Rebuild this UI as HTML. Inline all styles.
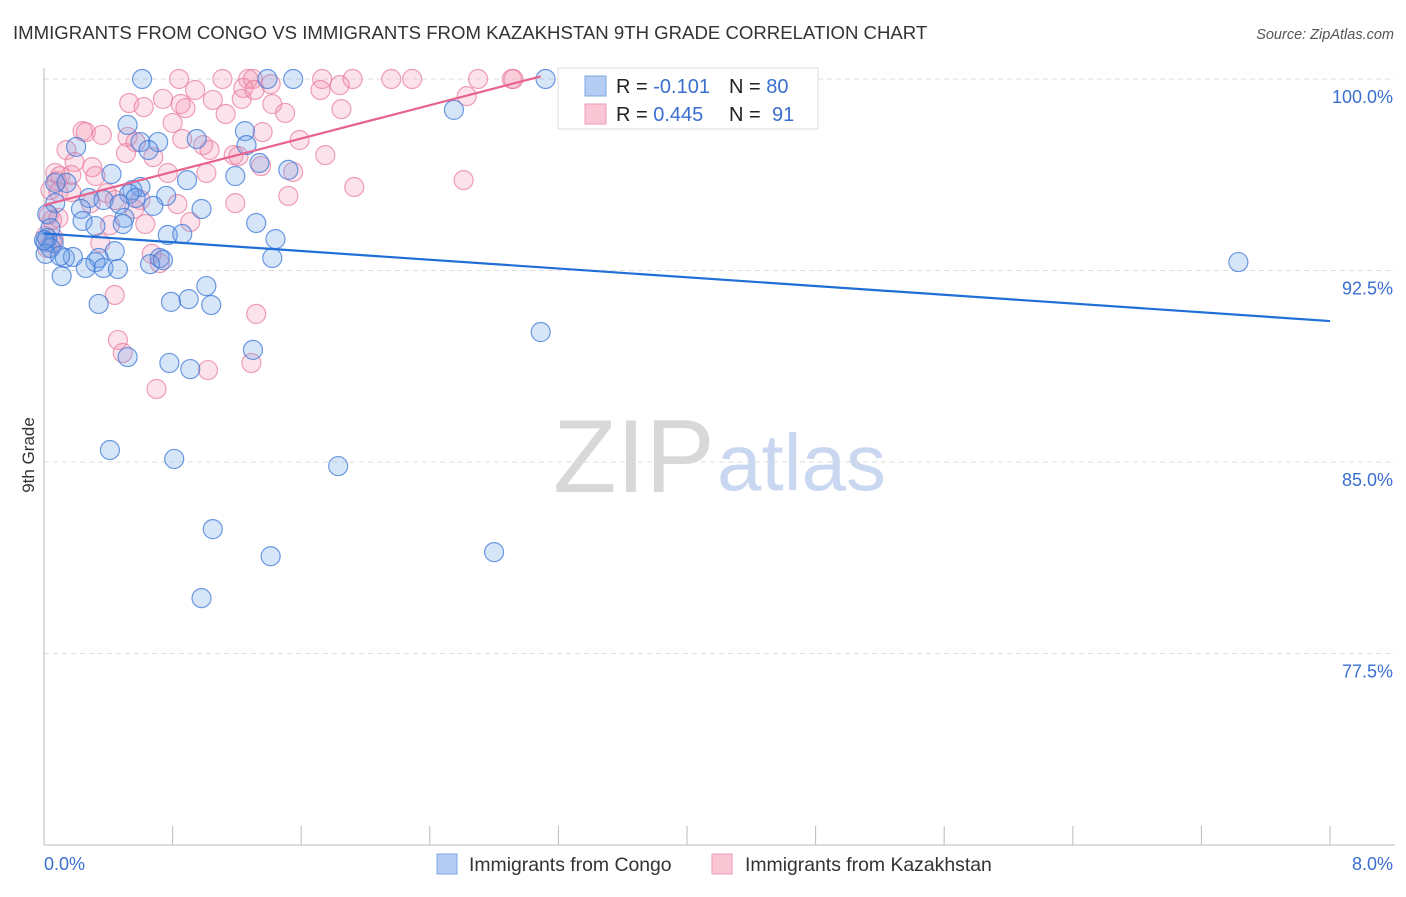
<!DOCTYPE html>
<html><head><meta charset="utf-8"><style>
body{margin:0;background:#fff;font-family:"Liberation Sans",sans-serif}
svg text{font-family:"Liberation Sans",sans-serif}
</style></head><body>
<svg id="chart" width="1406" height="892" viewBox="0 0 1406 892">
<text x="13" y="39" font-size="18.6" fill="#333">IMMIGRANTS FROM CONGO VS IMMIGRANTS FROM KAZAKHSTAN 9TH GRADE CORRELATION CHART</text>
<text x="1394" y="39" font-size="14.5" fill="#555" font-style="italic" text-anchor="end">Source: ZipAtlas.com</text>
<g>
<text x="553" y="492" font-size="104" fill="#d8d8d8" font-family="Liberation Serif, serif">ZIP</text>
<text x="717" y="490" font-size="80" fill="#c9d8f0">atlas</text>
</g>
<g id="grid"></g>
<g id="axes"></g>
<g id="pts"></g>
<g id="trend"></g>
<text transform="translate(34,455) rotate(-90)" font-size="17" fill="#333" text-anchor="middle">9th Grade</text>
<g>
<rect x="558" y="68" width="260" height="61" fill="#fff" stroke="#ddd"/>
<rect x="585" y="76" width="21" height="20" fill="#b5cdf3" stroke="#7ea6e6"/>
<rect x="585" y="104" width="21" height="20" fill="#f9c6d5" stroke="#ee9bb5"/>
<text x="616" y="93" font-size="20" fill="#222">R = <tspan fill="#3a6fd0">-0.101</tspan><tspan x="729">N = </tspan><tspan fill="#3a6fd0">80</tspan></text>
<text x="616" y="121" font-size="20" fill="#222">R = <tspan fill="#3a6fd0">0.445</tspan><tspan x="729">N = </tspan><tspan fill="#3a6fd0" x="772">91</tspan></text>
</g>
<g>
<rect x="437" y="854" width="20" height="20" fill="#b5cdf3" stroke="#7ea6e6"/>
<text x="469" y="871" font-size="19.4" fill="#333">Immigrants from Congo</text>
<rect x="712" y="854" width="20" height="20" fill="#f9c6d5" stroke="#ee9bb5"/>
<text x="745" y="871" font-size="19.4" fill="#333">Immigrants from Kazakhstan</text>
</g>
</svg>
<script>
const yTicks=[100,92.5,85,77.5];
const yTickLabels=["100.0%","92.5%","85.0%","77.5%"];
const xTickLabels=["0.0%","8.0%"];
const congoX=[0.61,1.39,1.55,3.12,2.55,0.52,1.25,0.60,0.71,0.95,0.65,0.20,1.26,1.34,1.52,0.42,1.19,0.89,0.07,0.14,0.60,0.55,0.53,0.76,0.28,0.37,0.47,0.57,0.68,0.23,0.98,0.07,0.50,0.24,0.32,0.49,1.32,0.02,0.04,0.01,0.77,0.86,1.44,0.44,0.06,0.13,0.18,0.34,0.72,0.32,0.26,0.37,0.46,0.66,0.74,1.42,7.43,0.11,1.01,0.34,0.79,0.90,1.04,3.09,1.30,0.52,0.78,0.91,0.41,0.81,1.83,1.05,1.41,2.80,0.98,0.02,0.04,0.01,0.00,0.10];
const congoY=[100,100,100,100,98.79,98.20,97.96,97.53,97.53,97.65,97.22,97.34,97.41,96.71,96.44,96.28,96.20,96.04,95.93,95.93,95.77,95.65,95.50,95.42,95.34,95.26,95.10,95.34,95.03,94.91,94.91,95.14,94.56,94.44,94.24,94.32,94.36,94.71,94.16,93.62,93.89,93.93,93.73,93.26,93.58,92.99,93.03,92.99,92.99,92.83,92.60,92.60,92.56,92.75,92.91,92.99,92.83,92.28,91.89,91.19,91.27,91.38,91.15,90.09,89.39,89.11,88.88,88.64,85.47,85.12,84.84,82.37,81.31,81.47,79.67,93.77,93.38,93.15,93.69,93.07];
const kazX=[0.84,1.11,1.27,1.30,1.73,1.92,2.16,2.29,2.70,2.91,2.92,3.28,1.41,1.84,1.24,0.94,0.74,1.05,1.23,0.53,0.62,0.88,1.42,1.85,1.50,2.63,1.72,1.31,1.13,0.80,0.24,0.26,0.36,0.52,0.86,1.36,1.59,0.99,1.03,0.68,0.14,0.51,1.18,1.21,1.75,0.19,0.30,0.77,1.35,1.55,1.01,0.17,0.07,0.10,0.04,0.09,0.39,0.44,0.29,0.60,0.83,1.19,1.52,1.93,2.61,0.03,0.05,0.09,0.56,0.91,0.41,0.63,0.05,0.35,0.67,0.72,0.44,1.32,0.46,0.49,1.29,1.02,0.70,0.08,0.32,0.17,0.02,0.01,0.06,0.85,0.57];
const kazY=[100,100,100,100,100,100,100,100,100,100,100,100,99.80,99.76,99.65,99.57,99.22,99.18,99.22,99.06,98.90,98.86,99.02,98.82,98.67,99.33,99.57,99.57,98.63,98.28,97.96,97.92,97.81,97.73,97.65,97.92,97.61,97.41,97.22,96.94,97.22,97.10,97.02,96.98,97.02,96.75,96.55,96.32,96.59,96.36,96.32,96.24,96.32,96.20,95.65,95.57,95.53,95.26,95.14,95.26,95.10,95.14,95.42,95.77,96.04,94.67,94.48,94.56,94.91,94.40,94.28,94.32,93.58,93.58,93.15,92.79,91.54,90.80,89.78,89.27,88.88,88.60,87.86,96.00,96.20,95.57,93.38,93.85,93.77,99.02,97.53];
const congoTrendX=[0,8];
const congoTrendY=[93.95,90.52];
const kazTrendX=[0,3.09];
const kazTrendY=[95.06,100.1];

const NS="http://www.w3.org/2000/svg";
const X0=44,X1=1330,XMIN=0,XMAX=8;
const YPX100=79,PX_PER=191.5/7.5;
function xs(v){return X0+(v-XMIN)/(XMAX-XMIN)*(X1-X0);}
function ys(v){return YPX100+(100-v)*PX_PER;}
function mk(tag,attrs,parent){const e=document.createElementNS(NS,tag);for(const k in attrs)e.setAttribute(k,attrs[k]);parent.appendChild(e);return e;}
const grid=document.getElementById('grid'),axes=document.getElementById('axes'),pts=document.getElementById('pts'),trend=document.getElementById('trend');
yTicks.forEach((t,i)=>{
  const l=mk('line',{x1:44,x2:1395,y1:ys(t),y2:ys(t),stroke:'#ddd','stroke-dasharray':'5,4'},grid);
  
  
  const tx=mk('text',{x:1393,y:ys(t)+24,'font-size':18,fill:'#3a6fd0','text-anchor':'end'},grid);
  tx.textContent=yTickLabels[i];
  
  
});
const la=mk('line',{x1:44,x2:44,y1:68,y2:845,stroke:'#bbb'},axes);


const lb=mk('line',{x1:44,x2:1395,y1:845,y2:845,stroke:'#bbb'},axes);


for(let i=0;i<=10;i++){
  const v=XMIN+i*(XMAX-XMIN)/10;
  const t=mk('line',{x1:xs(v),x2:xs(v),y1:826,y2:845,stroke:'#bbb'},axes);
  
  
}
[[XMIN,'start',44],[XMAX,'end',1393]].forEach((d,i)=>{
  const tx=mk('text',{x:d[2],y:870,'font-size':18,fill:'#3a6fd0','text-anchor':d[1]},axes);
  tx.textContent=xTickLabels[i];
  
  
});
function drawPts(X,Y,fill,stroke,name){
  X.forEach((x,i)=>{
    const c=mk('circle',{cx:xs(x),cy:ys(Y[i]),r:9.5,fill:fill,stroke:stroke,'stroke-width':1.2},pts);
    
    
  });
}
drawPts(kazX,kazY,'rgba(245,150,180,0.28)','rgba(232,120,155,0.7)','kazakhstan-point');
drawPts(congoX,congoY,'rgba(110,160,235,0.28)','rgba(60,120,215,0.75)','congo-point');
const bl=mk('line',{x1:xs(congoTrendX[0]),y1:ys(congoTrendY[0]),x2:xs(congoTrendX[1]),y2:ys(congoTrendY[1]),stroke:'#1f6fd6','stroke-width':2.2},trend);


const pl=mk('line',{x1:xs(kazTrendX[0]),y1:ys(kazTrendY[0]),x2:xs(kazTrendX[1]),y2:ys(kazTrendY[1]),stroke:'#e8628e','stroke-width':2.2},trend);


</script>
</body></html>
